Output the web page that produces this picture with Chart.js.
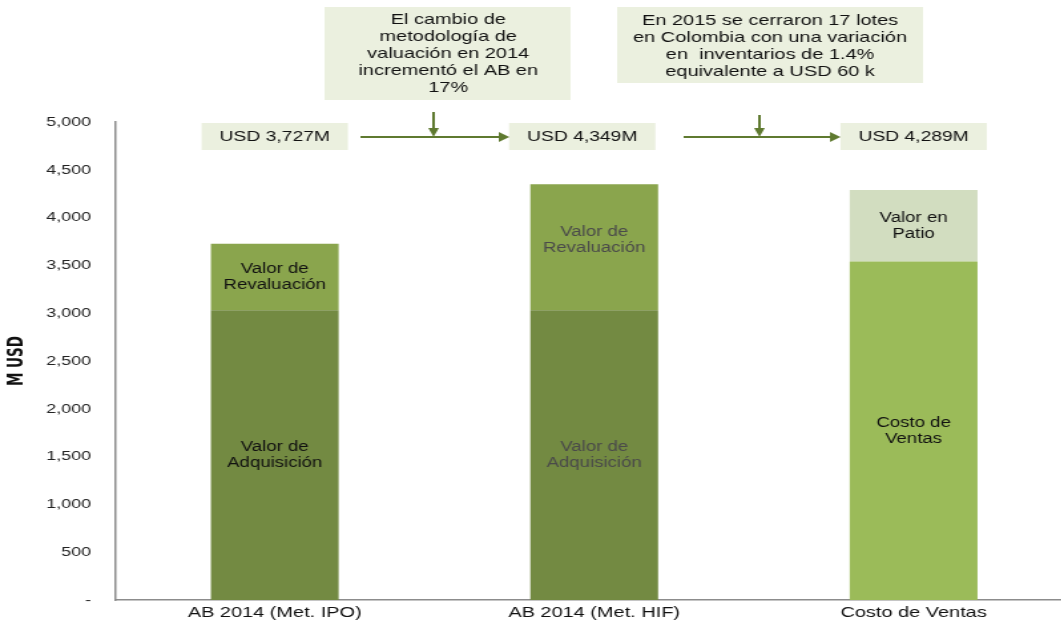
<!DOCTYPE html>
<html>
<head>
<meta charset="utf-8">
<script src="https://cdn.jsdelivr.net/npm/chart.js@4/dist/chart.umd.min.js"></script>
<style>
  html, body { margin: 0; padding: 0; background: #fff; overflow: hidden; }
  /* la imagen original está estirada a lo ancho */
  #wrap { width: 807px; height: 634px; transform: scaleX(1.33); transform-origin: 0 0; }
</style>
</head>
<body>
<div id="wrap"><canvas id="myChart" width="807" height="634"></canvas></div>
<script>
const myChart = document.getElementById('myChart');

const categories   = ['AB 2014 (Met. IPO)', 'AB 2014 (Met. HIF)', 'Costo de Ventas'];
const baseValues   = [3030, 3030, 3540];
const topValues    = [697, 1319, 749];
const totals       = [3727, 4349, 4289];
const baseLabels   = [['Valor de', 'Adquisición'], ['Valor de', 'Adquisición'], ['Costo de', 'Ventas']];
const topLabels    = [['Valor de', 'Revaluación'], ['Valor de', 'Revaluación'], ['Valor en', 'Patio']];
const labelColors  = ['#111', '#4a4a4a', '#111'];
const notes        = [
    ['El cambio de', 'metodología de', 'valuación en 2014', 'incrementó el AB en', '17%'],
    ['En 2015 se cerraron 17 lotes', 'en Colombia con una variación', 'en  inventarios de 1.4%', 'equivalente a USD 60 k']
];

const FONT  = '"Liberation Sans", Arial, sans-serif';
const BOX   = '#ebf0df';
const ARROW = '#5f7a30';

function money(v){
    return 'USD ' + v.toLocaleString('en-US') + 'M';
}

function arrowRight(ctx, x1, x2, y){
    ctx.beginPath();
    ctx.moveTo(x1, y);
    ctx.lineTo(x2 - 6, y);
    ctx.stroke();
    ctx.beginPath();
    ctx.moveTo(x2, y);
    ctx.lineTo(x2 - 8, y - 5);
    ctx.lineTo(x2 - 8, y + 5);
    ctx.closePath();
    ctx.fill();
}

function arrowDown(ctx, x, y1, y2){
    ctx.beginPath();
    ctx.moveTo(x, y1);
    ctx.lineTo(x, y2 - 6);
    ctx.stroke();
    ctx.beginPath();
    ctx.moveTo(x, y2);
    ctx.lineTo(x - 4, y2 - 9);
    ctx.lineTo(x + 4, y2 - 9);
    ctx.closePath();
    ctx.fill();
}

// textos dentro de las barras + cajas de arriba
const extras = {
    id: 'extras',
    afterDatasetsDraw(chart){
        const ctx = chart.ctx;
        const base = chart.getDatasetMeta(0).data;
        const tops = chart.getDatasetMeta(1).data;
        ctx.save();
        ctx.font = '14px ' + FONT;
        ctx.textAlign = 'center';
        ctx.textBaseline = 'middle';
        for (let i = 0; i < categories.length; i++){
            ctx.fillStyle = labelColors[i];
            let b = base[i], t = tops[i];
            let yb = (b.y + b.base) / 2;
            ctx.fillText(baseLabels[i][0], b.x, yb - 8);
            ctx.fillText(baseLabels[i][1], b.x, yb + 8);
            let yt = (t.y + t.base) / 2 - (i === 1 ? 7 : 0);
            ctx.fillText(topLabels[i][0], t.x, yt - 8);
            ctx.fillText(topLabels[i][1], t.x, yt + 8);
        }
        ctx.restore();
    },
    afterDraw(chart){
        const ctx = chart.ctx;
        const top = chart.chartArea.top;
        const xs = chart.getDatasetMeta(0).data.map(b => b.x);
        const offs = [0, -9, 0];
        ctx.save();
        ctx.font = '14.5px ' + FONT;
        ctx.textAlign = 'center';
        ctx.textBaseline = 'middle';

        // cajas de valor
        for (let i = 0; i < totals.length; i++){
            let cx = xs[i] + offs[i];
            ctx.fillStyle = BOX;
            ctx.fillRect(cx - 55, top + 1, 110, 27);
            ctx.fillStyle = '#111';
            ctx.fillText(money(totals[i]), cx, top + 15);
        }

        // notas
        ctx.font = '15px ' + FONT;
        ctx.fillStyle = BOX;
        ctx.fillRect(244, 7, 185, 93);
        ctx.fillRect(464, 7, 230, 76);
        ctx.fillStyle = '#111';
        notes[0].forEach((l, k) => ctx.fillText(l, 337, 20 + k * 17));
        notes[1].forEach((l, k) => ctx.fillText(l, 579, 21 + k * 17));

        // flechas
        ctx.strokeStyle = ARROW;
        ctx.fillStyle = ARROW;
        ctx.lineWidth = 2;
        arrowRight(ctx, 271, 383, top + 15);
        arrowDown(ctx, 326, 112, top + 15);
        arrowRight(ctx, 514, 632, top + 15);
        arrowDown(ctx, 571, 115, top + 15);
        ctx.restore();
    }
};

const barChart = new Chart(myChart, {
    type: 'bar',
    data: {
        labels: categories,
        datasets: [{
            label: 'Base',
            data: baseValues,
            backgroundColor: ['#738a42', '#738a42', '#9bbb59']
        }, {
            label: 'Superior',
            data: topValues,
            backgroundColor: ['#8aa54d', '#8aa54d', '#d2ddc0']
        }]
    },
    options: {
        responsive: false,
        animation: false,
        layout: { padding: { top: 122, right: 0, bottom: 0, left: 0 } },
        plugins: {
            legend: { display: false },
            tooltip: { enabled: false }
        },
        datasets: {
            bar: { barPercentage: 0.4, categoryPercentage: 1 }
        },
        scales: {
            x: {
                stacked: true,
                grid: { display: false, drawTicks: false },
                border: { color: '#8c8c8c', width: 1.5 },
                ticks: { color: '#111', font: { size: 15, family: FONT }, padding: 4 },
                afterFit(scale){ scale.height = 34; }
            },
            y: {
                stacked: true,
                min: 0,
                max: 5000,
                grid: { display: false, drawTicks: false },
                border: { color: '#8c8c8c', width: 1.5 },
                ticks: {
                    stepSize: 500,
                    color: '#222',
                    padding: 18,
                    font: { size: 13.5, family: FONT },
                    callback: v => v === 0 ? '-' : v.toLocaleString('en-US')
                },
                title: {
                    display: true,
                    text: 'M USD',
                    color: '#111',
                    font: { size: 15, weight: 'bold', family: '"Liberation Sans Narrow", "DejaVu Sans Condensed", ' + FONT },
                    padding: { top: 4, bottom: 0 }
                },
                afterFit(scale){ scale.width = 86.5; }
            }
        }
    },
    plugins: [extras]
});
</script>
</body>
</html>
